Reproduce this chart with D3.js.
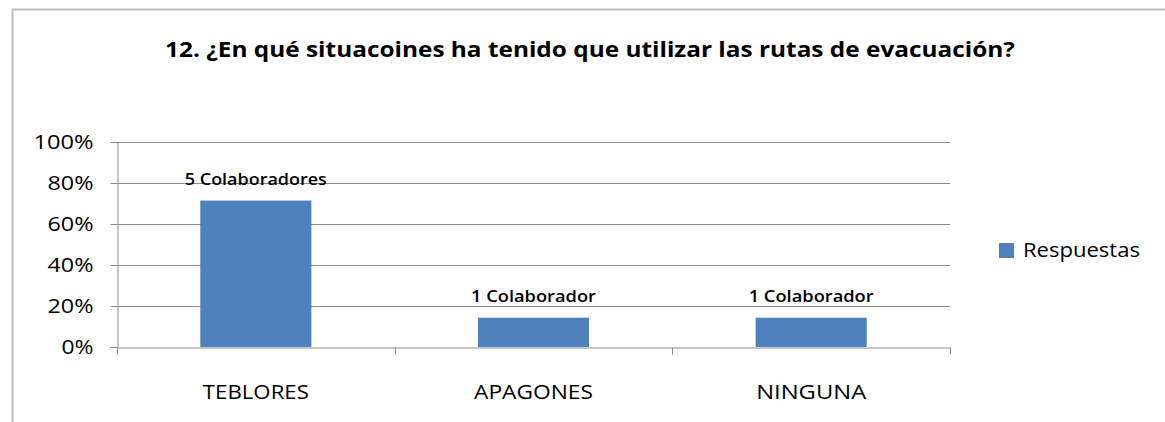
<!DOCTYPE html>
<html>
<head>
<meta charset="utf-8">
<script src="https://cdn.jsdelivr.net/npm/d3@7"></script>
<style>
  body { margin: 0; background: #fff; }
  svg { font-family: "Open Sans", Lato, sans-serif; }
</style>
</head>
<body>
<svg width="1165" height="422"></svg>
<script>
// Data
const categories = ["TEBLORES", "APAGONES", "NINGUNA"];
const values = [0.7143, 0.1429, 0.1429];
const barLabels = ["5 Colaboradores", "1 Colaborador", "1 Colaborador"];
const yTicks = [0, 0.2, 0.4, 0.6, 0.8, 1];
const seriesName = "Respuestas";
const title = "12. ¿En qué situacoines ha tenido que utilizar las rutas de evacuación?";

const svg = d3.select("svg");
const margin = { left: 117, right: 215, top: 142, bottom: 75 };
const W = 1165, H = 422;

// the original uses a wide Calibri-like face; stretch text to its measured width
function fitWidth(sel, w) {
    sel.attr("textLength", w).attr("lengthAdjust", "spacingAndGlyphs");
}

// chart frame (only top and left visible)
svg.append("path")
    .attr("d", "M12.5,422 V9.5 H1165")
    .attr("fill", "none")
    .attr("stroke", "#bdbdbd")
    .attr("stroke-width", 2);

svg.append("text")
    .attr("x", 590).attr("y", 57)
    .attr("text-anchor", "middle")
    .attr("font-weight", "bold")
    .attr("font-size", 22)
    .attr("fill", "#000")
    .text(title)
    .call(fitWidth, 850);

const x = d3.scaleBand()
    .domain(categories)
    .range([margin.left, W - margin.right]);

const y = d3.scaleLinear()
    .domain([0, 1])
    .range([H - margin.bottom, margin.top]);

// gridlines
svg.append("g")
    .selectAll("line")
    .data(yTicks.slice(1))
    .enter().append("line")
    .attr("x1", margin.left).attr("x2", W - margin.right)
    .attr("y1", d => Math.round(y(d)) + 0.5).attr("y2", d => Math.round(y(d)) + 0.5)
    .attr("stroke", "#8c8c8c");

// y axis
const yAxis = svg.append("g")
    .attr("transform", `translate(${margin.left + 0.5},0)`)
    .call(d3.axisLeft(y).tickValues(yTicks).tickFormat(d3.format(".0%")).tickSize(7).tickPadding(17));
yAxis.select(".domain").attr("stroke", "#8c8c8c");
yAxis.selectAll(".tick line").attr("stroke", "#8c8c8c");
yAxis.selectAll("text")
    .attr("font-size", 20).attr("fill", "#000")
    .attr("font-family", "'Open Sans', Lato, sans-serif")
    .each(function (d) {
        const n = d3.format(".0%")(d).length;
        d3.select(this).call(fitWidth, n === 4 ? 60 : n === 3 ? 46 : 32);
    });

// x axis
const xAxis = svg.append("g")
    .attr("transform", `translate(0,${Math.round(y(0)) + 0.5})`)
    .call(d3.axisBottom(x).tickSize(0).tickPadding(32));
xAxis.select(".domain").attr("stroke", "#8c8c8c");
const xWidths = { TEBLORES: 106, APAGONES: 119, NINGUNA: 110 };
xAxis.selectAll("text")
    .attr("font-size", 20).attr("fill", "#000")
    .attr("font-family", "'Open Sans', Lato, sans-serif")
    .attr("dy", 0).attr("y", 51)
    .each(function (d) { d3.select(this).call(fitWidth, xWidths[d]); });
xAxis.selectAll(".bound")
    .data([0, 1, 2, 3])
    .enter().append("line")
    .attr("x1", i => Math.round(margin.left + i * x.step()) + 0.5)
    .attr("x2", i => Math.round(margin.left + i * x.step()) + 0.5)
    .attr("y1", 0).attr("y2", 7)
    .attr("stroke", "#8c8c8c");

// bars
const bw = x.bandwidth() * 0.4;
svg.append("g")
    .selectAll("rect")
    .data(values)
    .enter().append("rect")
    .attr("x", (d, i) => x(categories[i]) + (x.bandwidth() - bw) / 2)
    .attr("y", d => y(d))
    .attr("width", bw)
    .attr("height", d => y(0) - y(d))
    .attr("fill", "#4f81bd");

// data labels
svg.append("g")
    .selectAll("text")
    .data(values)
    .enter().append("text")
    .attr("x", (d, i) => x(categories[i]) + x.bandwidth() / 2)
    .attr("y", d => y(d) - 16)
    .attr("text-anchor", "middle")
    .attr("font-size", 17)
    .attr("font-weight", 600)
    .attr("fill", "#000")
    .text((d, i) => barLabels[i])
    .each(function (d, i) { d3.select(this).call(fitWidth, i === 0 ? 142 : 125); });

// legend
const lg = svg.append("g").attr("transform", "translate(999,243)");
lg.append("rect").attr("width", 15).attr("height", 15).attr("fill", "#4f81bd");
lg.append("text").attr("x", 24).attr("y", 14).attr("font-size", 20).attr("fill", "#000")
    .text(seriesName).call(fitWidth, 117);
</script>
</body>
</html>
